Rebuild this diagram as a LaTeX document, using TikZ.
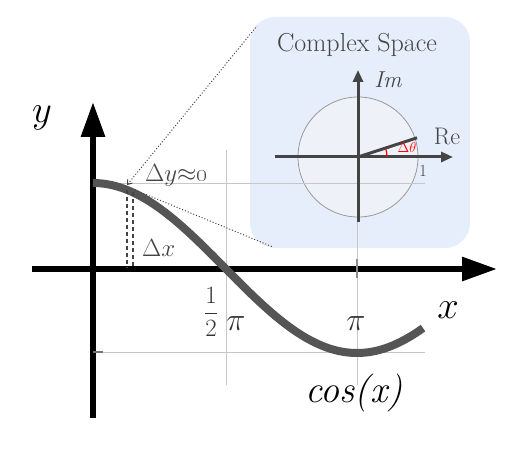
\documentclass[tikz,border=0pt]{standalone}
\usetikzlibrary{arrows.meta,calc}
\definecolor{boxblue}{RGB}{229,238,250}
\definecolor{circfill}{RGB}{238,242,248}
\definecolor{ink}{RGB}{68,68,68}
\definecolor{curvecol}{RGB}{85,85,85}
\begin{document}
\begin{tikzpicture}[x=1pt,y=-1pt,
  mainaxis/.style={line width=6pt,black,-{Triangle[length=35pt,width=23pt]}},
  caxis/.style={line width=3pt,ink,-{Triangle[length=12pt,width=10pt]}},
  gridline/.style={line width=0.8pt,black!22},
  curvestyle/.style={line width=8pt,curvecol},
  dashline/.style={line width=1.2pt,ink,dash pattern=on 4pt off 3pt},
  dotline/.style={line width=1pt,ink,dotted},
  lbl/.style={inner sep=0pt,text=ink},
  biglbl/.style={inner sep=0pt,text=black,font=\fontsize{24.88}{28}\selectfont,scale=1.55}]
\path[use as bounding box] (0,0) rectangle (532,473);

% complex space box
\node[fill=boxblue,rounded corners=25pt,minimum width=220pt,minimum height=231pt,inner sep=0pt] (box) at (360,132.5) {};
\coordinate (c0) at (358,157);
\node[circle,draw=black!40,line width=0.8pt,fill=circfill,minimum size=120pt,inner sep=0pt] (unit) at (c0) {};

% grid lines
\coordinate (g1a) at (93,183);  \coordinate (g1b) at (425,183);
\coordinate (g2a) at (93,352);  \coordinate (g2b) at (425,352);
\coordinate (v1a) at (226,150); \coordinate (v1b) at (226,385);
\coordinate (v2a) at (357,222); \coordinate (v2b) at (357,385);
\draw[gridline] (g1a) -- (g1b);
\draw[gridline] (g2a) -- (g2b);
\draw[gridline] (v1a) -- (v1b);
\draw[gridline] (v2a) -- (v2b);

% complex axes
\coordinate (reA) at (275,157); \coordinate (reB) at (453,157);
\coordinate (imA) at (358,222); \coordinate (imB) at (358,70);
\draw[caxis] (reA) -- (reB);
\draw[caxis] (imA) -- (imB);
\coordinate (rad) at ($(c0)+(-18:62)$);
\draw[line width=3pt,ink] (c0) -- (rad);
\draw[red,line width=1.2pt] (387,157) arc[start angle=0,end angle=-17,radius=29];
\node[inner sep=0pt,text=red,font=\fontsize{14}{16}\selectfont] (dth) at (407,148) {$\Delta\theta$};
\node[lbl,font=\fontsize{26}{30}\selectfont] (title) at (357,45) {Complex Space};
\node[lbl,font=\fontsize{23}{27}\selectfont\itshape] (im) at (388,80) {Im};
\node[lbl,font=\fontsize{24}{28}\selectfont] (re) at (447,136) {Re};
\node[lbl,font=\fontsize{17}{20}\selectfont] (one) at (423,171) {1};

% main axes
\coordinate (xA) at (32,269);  \coordinate (xB) at (497,269);
\coordinate (yA) at (93,418);  \coordinate (yB) at (93,102);
\draw[mainaxis] (xA) -- (xB);
\draw[mainaxis] (yA) -- (yB);
\draw[line width=2pt,black!55] (93,352) -- (103,352);
\draw[line width=2pt,black!45] (357,259) -- (357,278);

% curve
\draw[curvestyle] plot[domain=0:225,samples=90,smooth] ({93+1.466667*\x},{268-85*cos(\x)});

% dashed verticals
\coordinate (d1a) at (127,190); \coordinate (d1b) at (127,268);
\coordinate (d2a) at (133,192); \coordinate (d2b) at (133,268);
\draw[dashline] (d1a) -- (d1b);
\draw[dashline] (d2a) -- (d2b);

% dotted zoom lines
\coordinate (p1) at (127,185); \coordinate (p2) at (135,190);
\coordinate (bx1) at (257,26); \coordinate (bx2) at (273,247);
\draw[dotline,{Straight Barb[length=4pt,width=6pt]}-] (p1) -- (bx1);
\draw[dotline] (p2) -- (bx2);

% labels
\node[lbl,anchor=west,font=\fontsize{24.88}{28}\selectfont] (dy) at (145,175) {$\Delta y{\approx}$\oldstylenums{0}};
\node[lbl,anchor=west,font=\fontsize{24.88}{28}\selectfont] (dx) at (142,248) {$\Delta x$};
\node[biglbl] (ylab) at (42,118) {$y$};
\node[biglbl] (xlab) at (448,310) {$x$};
\node[inner sep=0pt,text=black,font=\fontsize{38}{42}\selectfont\itshape] (cos) at (354,393) {cos(x)};
\node[lbl,text=black!80,font=\fontsize{20.74}{24}\selectfont,scale=1.2] (half) at (211,312) {$\displaystyle\frac{1}{2}$};
\node[lbl,text=black!80,anchor=base,font=\fontsize{24.88}{28}\selectfont,scale=1.3] (pi1) at (236,330) {$\pi$};
\node[lbl,text=black!80,anchor=base,font=\fontsize{24.88}{28}\selectfont,scale=1.3] (pi2) at (356,330) {$\pi$};
\end{tikzpicture}
\end{document}
